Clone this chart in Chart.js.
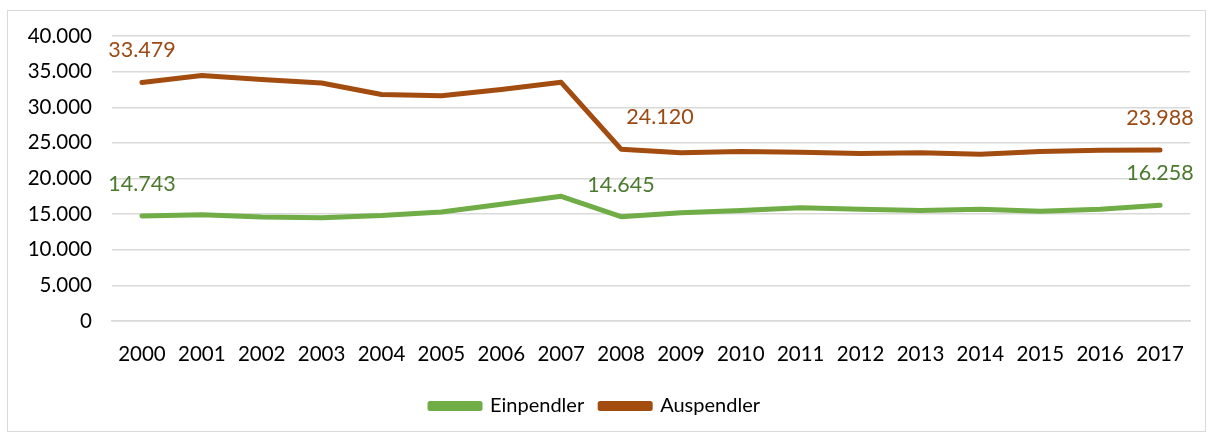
<!DOCTYPE html>
<html>
<head>
<meta charset="utf-8">
<script src="https://cdn.jsdelivr.net/npm/chart.js@4.4.0/dist/chart.umd.min.js"></script>
<style>
    html, body { margin: 0; padding: 0; background: #fff; }
    #frame { position: absolute; left: 7px; top: 10px; width: 1197px; height: 420px; border: 1px solid #d9d9d9; }
    #wrap { position: absolute; left: 0; top: 0; width: 1213px; height: 434px; }
</style>
</head>
<body>
<div id="frame"></div>
<div id="wrap"><canvas id="chart" width="1213" height="434"></canvas></div>
<script>
const years = ['2000', '2001', '2002', '2003', '2004', '2005', '2006', '2007', '2008',
    '2009', '2010', '2011', '2012', '2013', '2014', '2015', '2016', '2017'];
const einpendler = [14743, 14900, 14600, 14500, 14800, 15300, 16400, 17500, 14645,
    15200, 15500, 15900, 15700, 15500, 15700, 15400, 15700, 16258];
const auspendler = [33479, 34450, 33900, 33400, 31800, 31600, 32500, 33500, 24120,
    23600, 23800, 23700, 23500, 23600, 23400, 23800, 23950, 23988];
const labelIdx = [0, 8, 17];

const FONT = 'Lato, "Open Sans", sans-serif';
const fmt = v => v.toLocaleString('de-DE');

// draws the value labels above selected points
const valueLabels = {
    id: 'valueLabels',
    afterDatasetsDraw(chart) {
        const ctx = chart.ctx;
        ctx.save();
        ctx.font = '21.5px ' + FONT;
        ctx.textAlign = 'center';
        ctx.textBaseline = 'middle';
        chart.data.datasets.forEach((ds, di) => {
            const meta = chart.getDatasetMeta(di);
            labelIdx.forEach(i => {
                const pt = meta.data[i];
                let dx = 0;
                if (di === 1 && i === 8) dx = 39;
                ctx.fillStyle = ds.labelColor;
                ctx.fillText(fmt(ds.data[i]), pt.x + dx, pt.y - 32);
            });
        });
        ctx.restore();
    }
};

new Chart(document.getElementById('chart'), {
    type: 'line',
    data: {
        labels: years,
        datasets: [
            {
                label: 'Einpendler', data: einpendler,
                borderColor: '#70ad47', backgroundColor: '#70ad47', labelColor: '#4b7a2f',
                borderWidth: 5, pointRadius: 0, tension: 0, borderCapStyle: 'round', borderJoinStyle: 'round',
            },
            {
                label: 'Auspendler', data: auspendler,
                borderColor: '#a34c10', backgroundColor: '#a34c10', labelColor: '#9b4a14',
                borderWidth: 5, pointRadius: 0, tension: 0, borderCapStyle: 'round', borderJoinStyle: 'round',
            },
        ],
    },
    options: {
        responsive: false,
        animation: false,
        layout: { padding: { left: 0, right: 23, top: 36, bottom: 8 } },
        plugins: {
            legend: {
                position: 'bottom',
                labels: { color: '#000', font: { size: 20, family: FONT }, boxWidth: 50, boxHeight: 5, padding: 16 },
            },
            tooltip: { enabled: false },
        },
        scales: {
            x: {
                offset: true,
                grid: { display: false, drawTicks: false },
                border: { display: true, color: '#d9d9d9', width: 1.5 },
                ticks: { color: '#000', font: { size: 20.5, family: FONT }, padding: 21, maxRotation: 0, autoSkip: false },
                afterFit: s => { s.height = 59; },
            },
            y: {
                min: 0, max: 40000,
                grid: { color: '#d9d9d9', lineWidth: 1.5, drawTicks: false },
                border: { display: false },
                ticks: { stepSize: 5000, color: '#000', font: { size: 20.5, family: FONT }, padding: 20, callback: v => fmt(v) },
                afterFit: s => { s.width = 112; },
            },
        },
    },
    plugins: [valueLabels],
});
</script>
</body>
</html>
